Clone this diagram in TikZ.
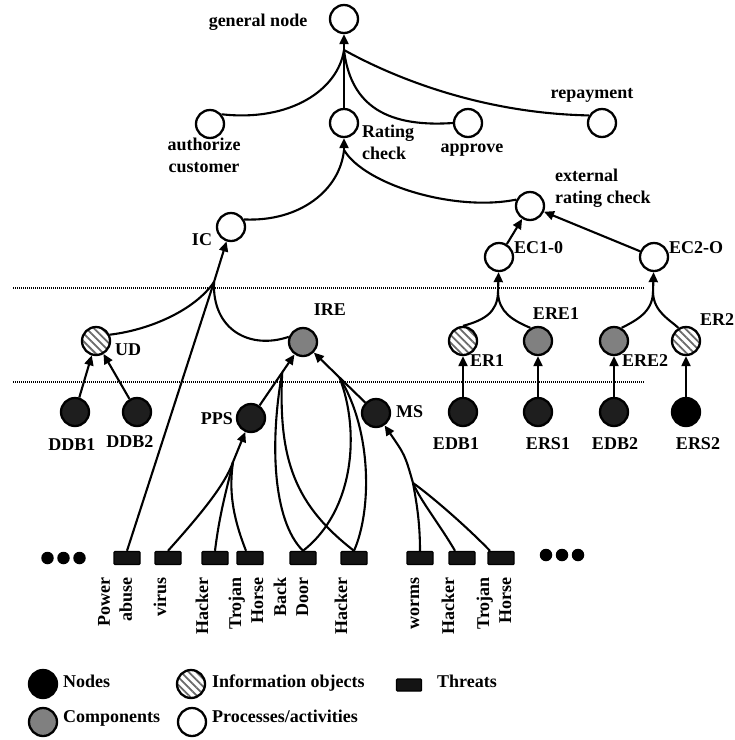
\documentclass[tikz,border=0pt]{standalone}
\usepackage{fontspec}
\setmainfont{Liberation Serif}
\usetikzlibrary{arrows.meta,patterns.meta,calc}
\definecolor{compgray}{HTML}{808080}
\definecolor{nodeblack}{HTML}{1E1E1E}
\definecolor{threatc}{HTML}{141414}
\definecolor{hatchc}{HTML}{6A6A6A}
\begin{document}
\begin{tikzpicture}[x=1pt,y=-1pt,
  every node/.style={font=\bfseries\fontsize{18}{22}\selectfont},
  bub/.style={circle, minimum size=28pt, inner sep=0pt, line width=2.3pt, draw=black},
  proc/.style={bub, fill=white},
  comp/.style={bub, fill=compgray},
  nd/.style={bub, fill=nodeblack},
  info/.style={bub, pattern={Lines[angle=-45,distance=5.5pt,line width=1.8pt]}, pattern color=hatchc},
  thr/.style={rectangle, minimum width=26pt, minimum height=13pt, inner sep=0pt, fill=threatc, draw=black, line width=1.4pt, rounded corners=1pt},
  lbl/.style={inner sep=0pt, text height=12pt, text depth=4pt},
  mlbl/.style={inner sep=0pt},
  tl/.style={inner sep=0pt, rotate=90, anchor=east, align=right},
  conn/.style={line width=2.1pt},
  arr/.style={conn, -{Triangle[length=10pt,width=9pt]}},
  dotc/.style={circle, fill=black, minimum size=12.5pt, inner sep=0pt},
  sep/.style={line width=1.6pt, dash pattern=on 1pt off 1pt}]
\path[use as bounding box, fill=white] (0,0) rectangle (735,740);

% separator lines
\coordinate (s1a) at (13,288); \coordinate (s1b) at (645,288);
\coordinate (s2a) at (13,382); \coordinate (s2b) at (645,382);
\draw[sep] (s1a) -- (s1b);
\draw[sep] (s2a) -- (s2b);

% process nodes
\node[proc] (GN) at (344,19) {};
\node[proc] (AC) at (210,124) {};
\node[proc] (RC) at (344,123) {};
\node[proc] (AP) at (468,123) {};
\node[proc] (RP) at (602,123) {};
\node[proc] (IC) at (231,227) {};
\node[proc] (ERC) at (530,206) {};
\node[proc] (EC1) at (499,257) {};
\node[proc] (EC2) at (654,257) {};
% information objects / components
\node[info] (UD) at (96,341) {};
\node[comp] (IRE) at (303,342) {};
\node[info] (ER1) at (463,341) {};
\node[comp] (ERE1) at (538,341) {};
\node[comp] (ERE2) at (614,341) {};
\node[info] (ER2) at (686,341) {};
% nodes
\node[nd] (DDB1) at (75,412) {};
\node[nd] (DDB2) at (137,412) {};
\node[nd] (PPS) at (251,418) {};
\node[nd] (MS) at (376,413) {};
\node[nd] (EDB1) at (463,412) {};
\node[nd] (ERS1) at (538,412) {};
\node[nd] (EDB2) at (614,412) {};
\node[nd, fill=black] (ERS2) at (686,412) {};
% threats
\node[thr] (PA) at (127,558) {};
\node[thr] (VI) at (168,558) {};
\node[thr] (HA1) at (215,558) {};
\node[thr] (TH1) at (250,558) {};
\node[thr] (BD) at (303,558) {};
\node[thr] (HA2) at (354,558) {};
\node[thr] (WO) at (420,558) {};
\node[thr] (HA3) at (462,558) {};
\node[thr] (TH2) at (501,558) {};
% dots
\node[dotc] (d1) at (47.5,558) {};
\node[dotc] (d2) at (63.5,558) {};
\node[dotc] (d3) at (79.5,558) {};
\node[dotc] (d4) at (546,555) {};
\node[dotc] (d5) at (562,555) {};
\node[dotc] (d6) at (578,555) {};

% merge points
\coordinate (gm) at (344,50);
\coordinate (rm) at (344,150);
\coordinate (icm) at (214,282);
\coordinate (e1m) at (498,293);
\coordinate (e2m) at (653,293);
\coordinate (pm) at (233,462);
\coordinate (mm) at (413,483);
\coordinate (il) at ($(PPS)!0.6!(IRE)$);
\coordinate (ir) at ($(MS)!0.5!(IRE)$);

% top level
\draw[arr] (gm) -- (GN);
\draw[conn] (AC.40) .. controls (290,122) and (338,90) .. (gm);
\draw[conn] (RC) -- (gm);
\draw[conn] (gm) .. controls (350,100) and (380,128) .. (AP.west);
\draw[conn] (gm) .. controls (380,70) and (470,113) .. (RP.150);
% rating check
\draw[arr] (rm) -- (RC);
\draw[conn] (IC.30) .. controls (300,222) and (340,190) .. (rm);
\draw[conn] (rm) .. controls (365,185) and (455,212) .. (ERC.155);
\draw[arr] (EC1) -- (ERC);
\draw[arr] (EC2) -- (ERC);
% IC
\draw[arr] (icm) -- (IC);
\draw[conn] (UD.25) .. controls (150,330) and (195,310) .. (icm);
\draw[conn] (icm) .. controls (212,330) and (250,350) .. (IRE.160);
\draw[conn] (PA.north) -- (icm);
\draw[arr] (DDB1) -- (UD);
\draw[arr] (DDB2) -- (UD);
% IRE
\draw[arr] (PPS) -- (IRE);
\draw[arr] (MS) -- (IRE);
\draw[conn] (il) .. controls (270,440) and (272,520) .. (BD.north);
\draw[conn] (il) .. controls (278,460) and (295,505) .. (HA2.north);
\draw[conn] (ir) .. controls (360,430) and (355,510) .. (BD.north);
\draw[conn] (ir) .. controls (372,430) and (372,510) .. (HA2.north);
% PPS
\draw[arr] (pm) -- (PPS);
\draw[conn] (VI.north) .. controls (200,515) and (225,485) .. (pm);
\draw[conn] (HA1.north) .. controls (220,510) and (228,485) .. (pm);
\draw[conn] ([xshift=-4pt]TH1.north) .. controls (232,515) and (229,490) .. (pm);
% MS
\draw[arr] (mm) .. controls (405,455) .. (MS);
\draw[conn] (WO.north) .. controls (420,520) and (416,500) .. (mm);
\draw[conn] ([xshift=-7pt]HA3.north) .. controls (440,525) and (420,500) .. (mm);
\draw[conn] ([xshift=-11pt]TH2.north) .. controls (465,525) and (430,495) .. (mm);
% external
\draw[arr] (e1m) -- (EC1);
\draw[conn] (ER1.north) .. controls (485,320) and (497,312) .. (e1m);
\draw[conn] (ERE1.120) .. controls (512,320) and (499,312) .. (e1m);
\draw[arr] (e2m) -- (EC2);
\draw[conn] (ERE2.60) .. controls (637,320) and (652,312) .. (e2m);
\draw[conn] (ER2.120) .. controls (670,320) and (654,312) .. (e2m);
\draw[arr] (EDB1) -- (ER1);
\draw[arr] (ERS1) -- (ERE1);
\draw[arr] (EDB2) -- (ERE2);
\draw[arr] (ERS2) -- (ER2);

% labels
\node[lbl] (tGN) at (258,22) {general node};
\node[mlbl, align=center, anchor=north] (tAC) at (204,138) {authorize\\customer};
\node[mlbl, align=left, anchor=north west] (tRC) at (362,125) {Rating\\check};
\node[lbl] (tAP) at (472,148) {approve};
\node[lbl] (tRP) at (592,94) {repayment};
\node[mlbl, align=left, anchor=north west] (tERC) at (555,169) {external\\rating check};
\node[lbl] (tIC) at (202,241) {IC};
\node[lbl, anchor=west] (tEC1) at (514,249) {EC1-0};
\node[lbl, anchor=west] (tEC2) at (669,249) {EC2-O};
\node[lbl, anchor=west] (tUD) at (115,351) {UD};
\node[lbl] (tIRE) at (330,311) {IRE};
\node[lbl, anchor=west] (tER1) at (470,362) {ER1};
\node[lbl] (tERE1) at (556,315) {ERE1};
\node[lbl, anchor=west] (tERE2) at (622,362) {ERE2};
\node[lbl, anchor=west] (tER2) at (700,321) {ER2};
\node[lbl, anchor=east] (tPPS) at (233,420) {PPS};
\node[lbl, anchor=west] (tMS) at (396,413) {MS};
\node[lbl] (tDDB1) at (72,446) {DDB1};
\node[lbl] (tDDB2) at (130,443) {DDB2};
\node[lbl] (tEDB1) at (456,445) {EDB1};
\node[lbl] (tERS1) at (548,445) {ERS1};
\node[lbl] (tEDB2) at (615,445) {EDB2};
\node[lbl] (tERS2) at (698,445) {ERS2};
% threat labels
\node[tl] (tPA) at (115,577) {Power\\abuse};
\node[tl] (tVI) at (160,577) {virus};
\node[tl] (tHA1) at (202,577) {Hacker};
\node[tl] (tTH1) at (246,577) {Trojan\\Horse};
\node[tl] (tBD) at (291,577) {Back\\Door};
\node[tl] (tHA2) at (341,577) {Hacker};
\node[tl] (tWO) at (415,577) {worms};
\node[tl] (tHA3) at (448,577) {Hacker};
\node[tl] (tTH2) at (494,577) {Trojan\\Horse};

% legend
\node[nd, fill=black] (LN) at (43,684) {};
\node[lbl, anchor=west] (tLN) at (63,683) {Nodes};
\node[comp] (LC) at (43,722) {};
\node[lbl, anchor=west] (tLC) at (63,718) {Components};
\node[info] (LI) at (191,684) {};
\node[lbl, anchor=west] (tLI) at (212,683) {Information objects};
\node[proc] (LP) at (192,722) {};
\node[lbl, anchor=west] (tLP) at (212,718) {Processes/activities};
\node[thr, minimum width=25pt, minimum height=12pt] (LT) at (409,685) {};
\node[lbl, anchor=west] (tLT) at (437,683) {Threats};
\end{tikzpicture}
\end{document}
